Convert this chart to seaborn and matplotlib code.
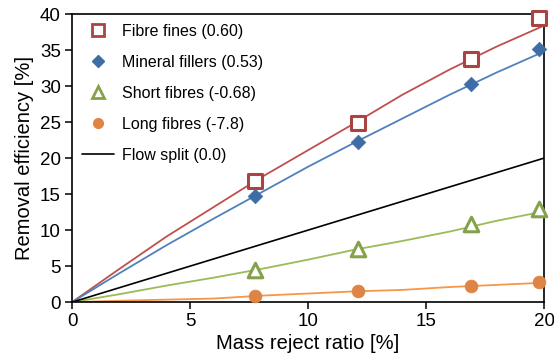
import matplotlib
import numpy as np
import pandas as pd
import seaborn as sns

matplotlib.use("Agg")
import matplotlib.pyplot as plt
from matplotlib.lines import Line2D

# measured points
x_meas = [7.75, 12.1, 16.9, 19.8]
fines_meas = [16.8, 24.9, 33.8, 39.5]
fillers_meas = [14.7, 22.3, 30.3, 35.2]
short_meas = [4.5, 7.4, 10.8, 12.9]
long_meas = [0.8, 1.5, 2.3, 2.8]

# model curves
x_model = [0, 2, 4, 6, 8, 10, 12, 14, 16, 18, 20]
fines_model = [0, 4.6, 9.1, 13.2, 17.3, 21.1, 24.9, 28.8, 32.3, 35.5, 38.4]
fillers_model = [0, 4.0, 7.9, 11.6, 15.2, 18.8, 22.2, 25.5, 28.8, 31.9, 34.8]
short_model = [0, 1.1, 2.3, 3.4, 4.6, 5.9, 7.3, 8.5, 9.8, 11.3, 12.6]
long_model = [0, 0.2, 0.35, 0.5, 0.9, 1.2, 1.5, 1.7, 2.1, 2.4, 2.7]
flow_x = [0, 20]
flow_y = [0, 20]

labels = ["Fibre fines (0.60)", "Mineral fillers (0.53)",
          "Short fibres (-0.68)", "Long fibres (-7.8)"]
line_colors = ["#C0504D", "#4F81BD", "#9BBB59", "#F79646"]
mark_colors = ["#A94442", "#3E6DA6", "#86A14B", "#DE8444"]

sns.set_style("white")
plt.rcParams["font.family"] = ["Liberation Sans", "DejaVu Sans"]
plt.rcParams["text.color"] = "black"
plt.rcParams["axes.labelcolor"] = "black"
plt.rcParams["xtick.color"] = "black"
plt.rcParams["ytick.color"] = "black"

fig = plt.figure(figsize=(5.54, 3.61), dpi=100)
ax = fig.add_axes([0.130, 0.163, 0.852, 0.798])

models = [fines_model, fillers_model, short_model, long_model]
meas = [fines_meas, fillers_meas, short_meas, long_meas]

for ym, col in zip(models, line_colors):
    df = pd.DataFrame({"x": x_model, "y": ym})
    sns.lineplot(data=df, x="x", y="y", color=col, linewidth=1.3, ax=ax)
sns.lineplot(x=flow_x, y=flow_y, color="black", linewidth=1.2, ax=ax)

marker_styles = [
    dict(marker="s", s=95, facecolor="white", edgecolor=mark_colors[0], linewidth=2.2),
    dict(marker="D", s=55, facecolor=mark_colors[1], edgecolor=mark_colors[1], linewidth=0.5),
    dict(marker="^", s=110, facecolor="white", edgecolor=mark_colors[2], linewidth=2.2),
    dict(marker="o", s=85, facecolor=mark_colors[3], edgecolor=mark_colors[3], linewidth=0.5),
]
for ym, st in zip(meas, marker_styles):
    sns.scatterplot(x=x_meas, y=ym, ax=ax, zorder=5, clip_on=False, **st)

ax.set_xlim(0, 20)
ax.set_ylim(0, 40)
ax.set_xticks([0, 5, 10, 15, 20])
ax.set_yticks(range(0, 41, 5))
ax.tick_params(axis="both", direction="out", length=5, width=1.1,
               labelsize=13.5, color="black", labelcolor="black",
               left=True, bottom=True, pad=3)
for sp in ax.spines.values():
    sp.set_color("black")
    sp.set_linewidth(1.2)
ax.set_xlabel("Mass reject ratio [%]", fontsize=14.5, labelpad=3)
ax.set_ylabel("Removal efficiency [%]", fontsize=14.5, labelpad=4)

handles = [
    Line2D([], [], linestyle="none", marker="s", markersize=8, markerfacecolor="white",
           markeredgecolor=mark_colors[0], markeredgewidth=2),
    Line2D([], [], linestyle="none", marker="D", markersize=6,
           color=mark_colors[1]),
    Line2D([], [], linestyle="none", marker="^", markersize=8, markerfacecolor="white",
           markeredgecolor=mark_colors[2], markeredgewidth=2),
    Line2D([], [], linestyle="none", marker="o", markersize=7,
           color=mark_colors[3]),
    Line2D([], [], color="black", linewidth=1.2),
]
ax.legend(handles, labels + ["Flow split (0.0)"], loc="upper left",
          frameon=False, fontsize=11.5, labelspacing=1.0, handlelength=2.0,
          handletextpad=0.5, borderaxespad=0.2, bbox_to_anchor=(0.0, 1.0))

fig.savefig("out.png", dpi=100)
